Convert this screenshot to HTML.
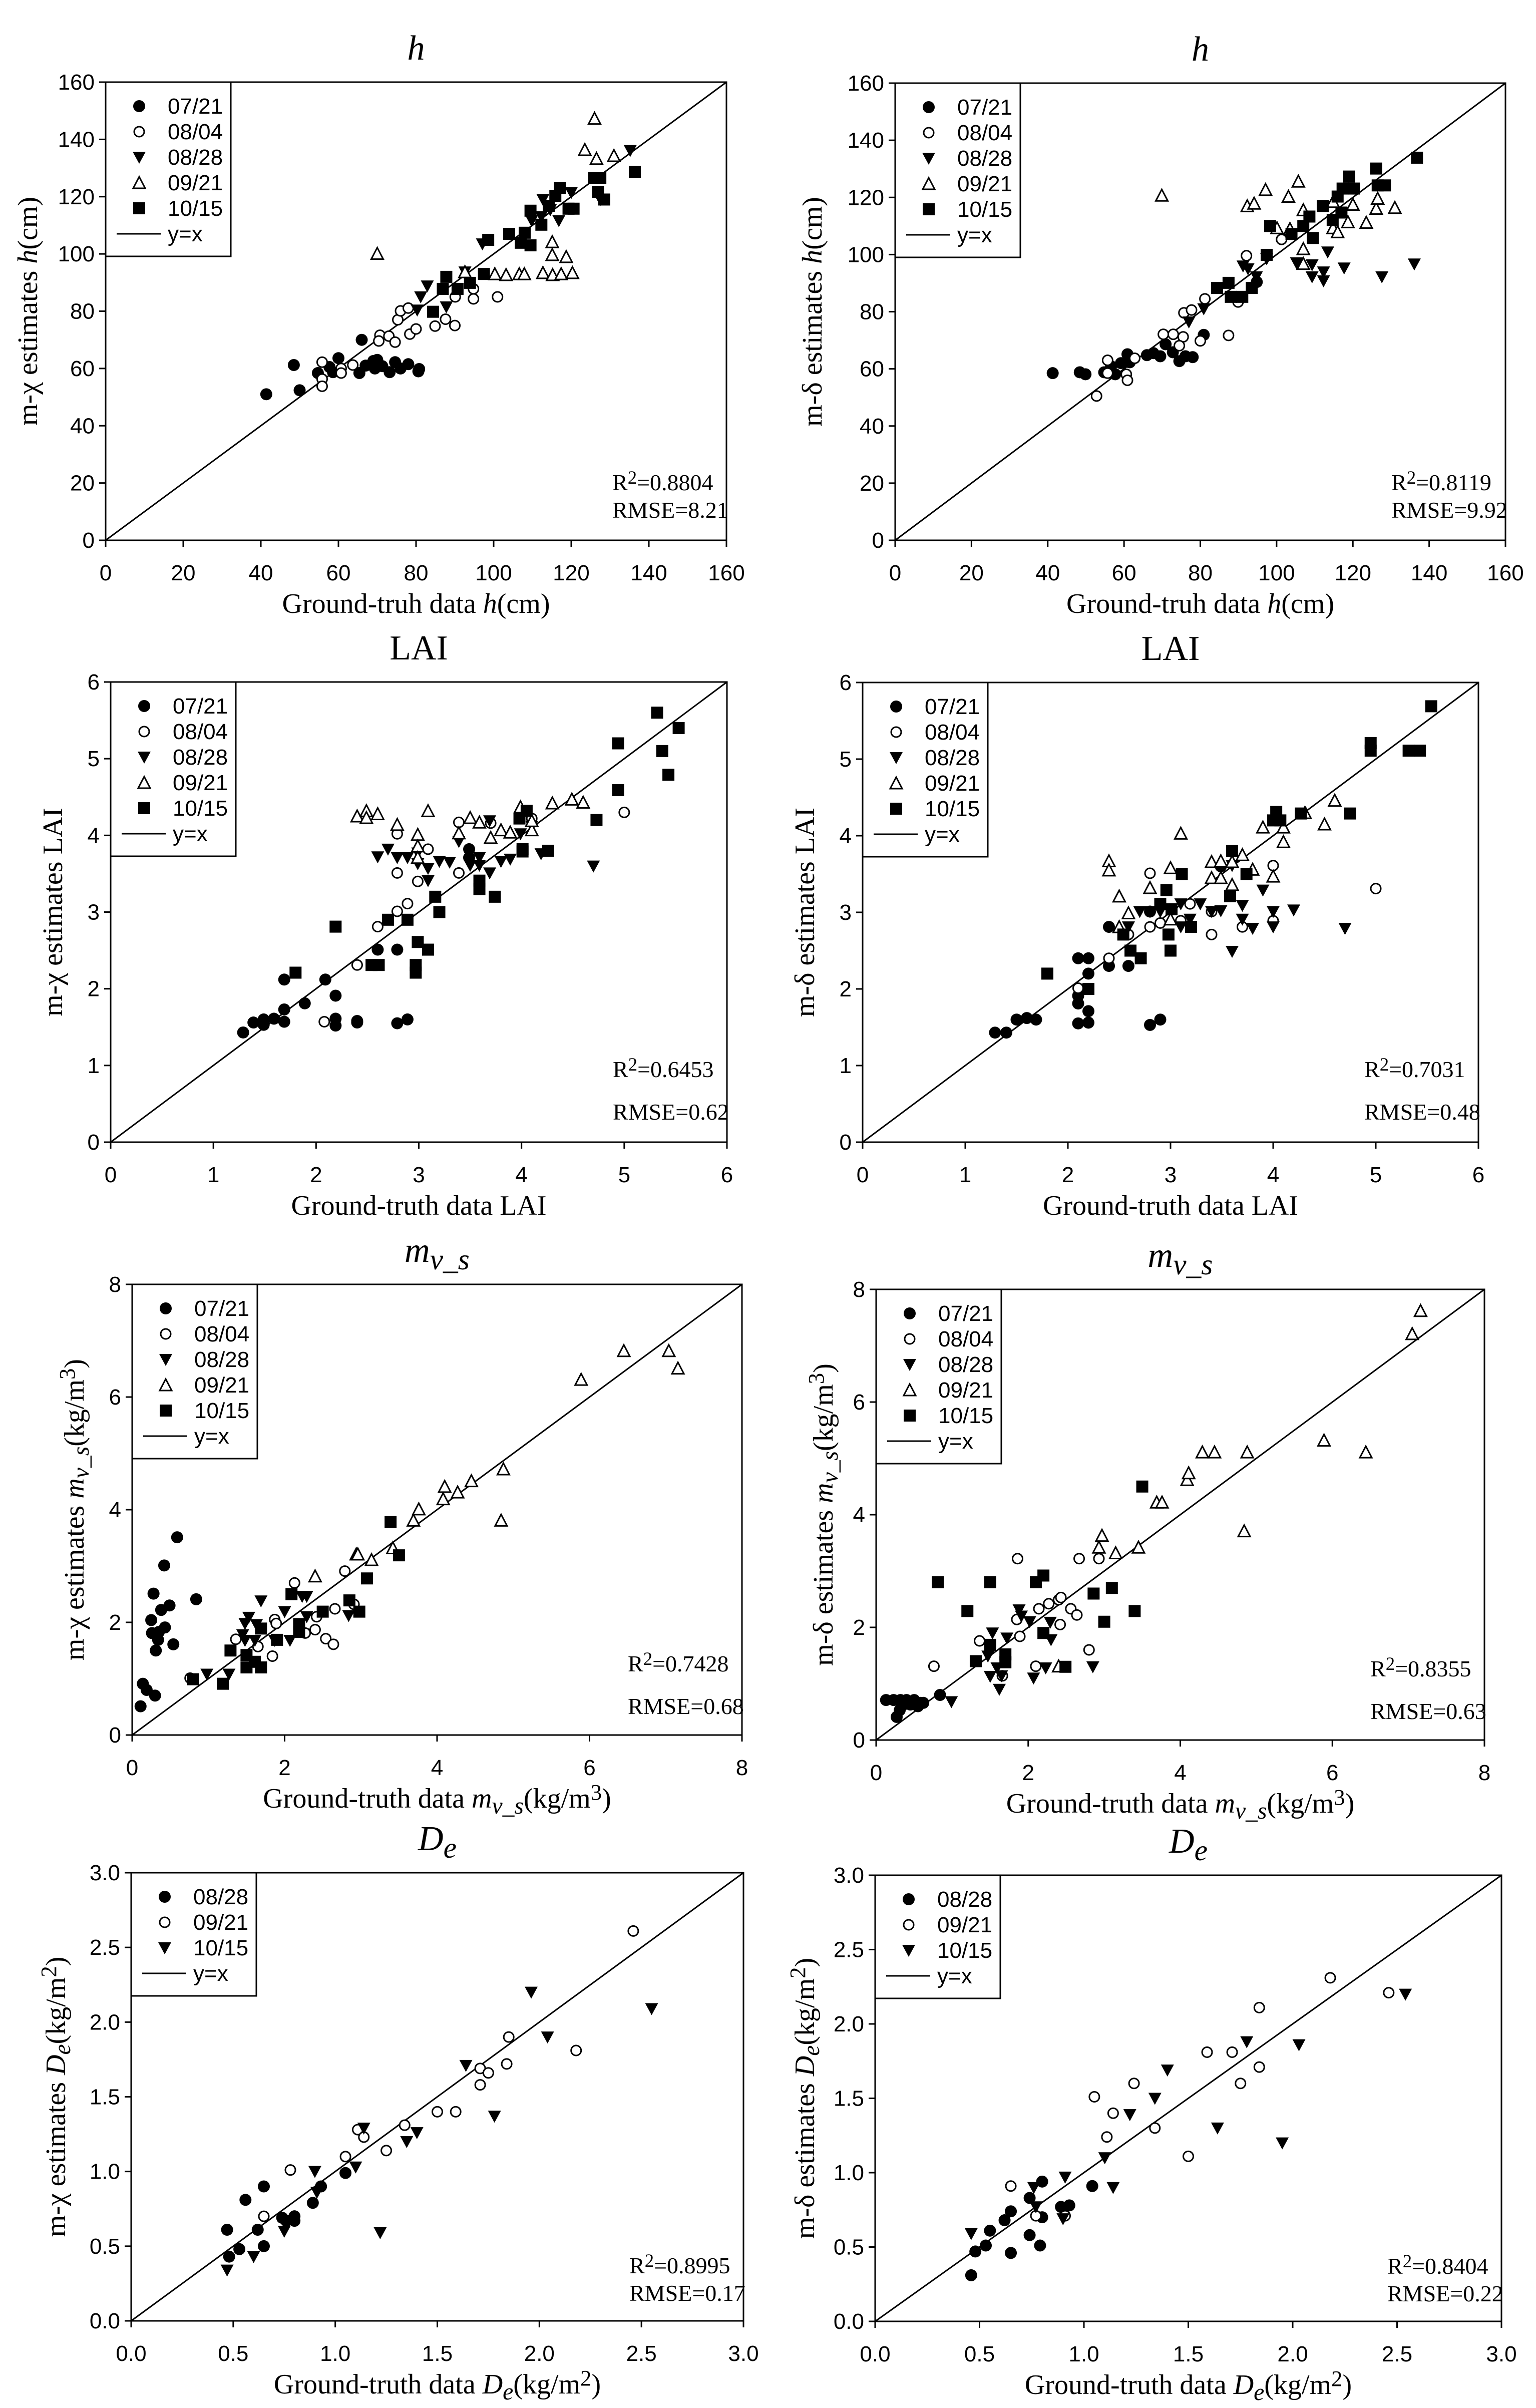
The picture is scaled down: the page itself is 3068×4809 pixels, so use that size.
<!DOCTYPE html>
<html><head><meta charset="utf-8"><style>
html,body{margin:0;padding:0;background:#fff}
svg{display:block}
.tk{font-family:"Liberation Sans Narrow","Liberation Sans",sans-serif;font-size:44px;fill:#000}
.sf{font-family:"Liberation Serif",serif;fill:#000}
</style></head><body>
<svg id="fig" xmlns="http://www.w3.org/2000/svg" width="3068" height="4809" viewBox="0 0 3068 4809">
<rect width="3068" height="4809" fill="#fff"/>
</svg>
<script>
// ---------- DATA (x = ground truth, y = estimate) ----------
const hChi_0721=[[41.4,51],[48.5,61.2],[50,52.4],[54.7,58.4],[60,63.6],[57.7,60.5],[58.6,58.7],[66,70],[65.4,58.4],[67,61],[69,62.6],[70,63],[70.4,61],[69.4,60],[71.3,60.8],[73.2,58.7],[74.6,62.2],[76,60],[78,61.5],[80.8,59.8],[80.6,59]];
const hChi_0804=[[55.8,62.2],[55.8,56.3],[55.8,53.8],[60.7,60],[60.7,58.4],[63.7,61.2],[70.7,71.6],[70.4,69.6],[73,71.3],[74.6,69.2],[75.3,77],[76,80.1],[78,81.1],[78.4,72],[80,73.8],[84.9,74.8],[87.6,77.2],[90,75],[90.1,85],[94.8,84.3],[94.8,87.8],[101,85]];
const hChi_0828=[[80.3,80.4],[81.2,85],[82.9,88.8],[87.8,81.5],[92.6,93.7],[97.1,103.5],[112.7,119],[109.8,111.6],[114.6,115.4],[116.8,111.6],[120,121.4],[127.5,119],[135.2,136.1],[112.3,113]];
const hChi_0921=[[70,100.1],[92.6,93.7],[100.3,93],[103.2,92.7],[106.6,93],[107.9,93],[112.7,93.4],[115.2,92.7],[117.4,93],[120.3,93.4],[115.1,104.2],[115.1,99.7],[118.7,99],[123.5,136.4],[126,147.3],[126.5,133.3],[131,134.3]];
const hChi_1015=[[84.4,79.8],[87.8,92],[86.9,87.8],[90.7,87.8],[93.9,89.9],[97.5,93],[98.6,104.9],[104,107],[107,103.9],[108,107.4],[109.5,103],[109.5,115.1],[112.3,110.2],[114.2,116.8],[115.9,120.3],[117.1,123.1],[119.3,115.8],[120.6,115.8],[125.9,126.6],[127.5,126.6],[126.9,121.7],[128.5,119],[136.4,128.7]];

const hDel_0721=[[41.3,58.5],[48.4,58.8],[49.9,58.1],[54.8,58.8],[57.7,58.1],[59.2,62],[60.9,65.1],[66,64.8],[67.7,65.5],[69.5,64.4],[70.9,68.6],[72.8,65.8],[74.5,62.7],[76.1,64.4],[78,64.1],[80.9,71.9],[94.8,90.4],[61.5,62.3],[56.6,60.9]];
const hDel_0804=[[52.8,50.5],[55.7,63],[55.7,58.5],[60.6,58.1],[60.9,56],[62.8,63.7],[70.3,72.1],[72.9,72.1],[75.5,71.2],[74.5,68.1],[75.7,79.6],[77.7,80.6],[80,69.8],[81.2,84.5],[87.4,71.7],[89.9,83.4],[92.1,99.6],[101.3,105.3]];
const hDel_0828=[[77,76.4],[80.9,81],[91.2,96],[92.5,95],[94.7,92.2],[97.4,98.5],[105.2,97.1],[109.3,96.4],[109.3,92.2],[112.3,93.9],[112.3,90.8],[113.4,100.9],[117.7,95.3],[127.6,92.2],[136.1,96.7]];
const hDel_0921=[[69.9,120.7],[92.3,117],[94.1,117.9],[97.1,122.7],[100.1,109.3],[103.1,120.3],[103.5,109],[105.7,125.6],[107,115.6],[107,102],[107,96.8],[114.8,109.3],[116,107.9],[114.8,118.5],[118.7,111.4],[120,117.5],[123.5,111.2],[126.1,116.1],[126.5,119.6],[131,116.4]];
const hDel_1015=[[84.4,88.3],[87.4,90.1],[88,85.2],[91,85.2],[93.5,88.3],[97.4,99.9],[98.3,110],[103.9,107.2],[107,110],[108.6,113.3],[109.5,105.8],[112.1,117],[114.7,112.1],[116,120.3],[117,114.7],[117.3,123.1],[119,127.3],[120.3,123.1],[126.1,130.1],[126.5,124.2],[128.4,124.2],[136.8,133.9]];

const laiChi_0721=[[1.29,1.43],[1.39,1.56],[1.49,1.6],[1.49,1.53],[1.59,1.61],[1.69,1.57],[1.69,1.73],[1.69,2.12],[1.89,1.81],[2.09,2.12],[2.19,1.91],[2.19,1.61],[2.19,1.52],[2.4,1.58],[2.4,1.56],[2.6,2.51],[2.79,2.51],[2.79,1.55],[2.89,1.6],[3.49,3.82],[3.49,3.71]];
const laiChi_0804=[[2.08,1.57],[2.4,2.31],[2.6,2.81],[2.79,3.01],[2.89,3.11],[2.79,4.02],[2.79,3.51],[2.99,3.4],[3.09,3.82],[3.39,4.17],[3.39,3.51],[3.7,4.16],[4.1,4.22],[5,4.3]];
const laiChi_0828=[[2.6,3.72],[2.7,3.82],[2.79,3.71],[2.89,3.71],[2.99,3.77],[2.99,3.63],[3.09,3.57],[3.09,3.41],[3.2,3.66],[3.3,3.65],[3.39,3.92],[3.5,3.61],[3.59,3.71],[3.59,3.61],[3.69,3.51],[3.69,4.19],[3.8,3.66],[3.89,3.69],[3.99,4.02],[4.1,4.12],[4.19,3.76],[4.7,3.6]];
const laiChi_0921=[[2.4,4.25],[2.49,4.32],[2.49,4.23],[2.6,4.28],[2.79,4.14],[2.99,4.01],[2.99,3.86],[2.99,3.71],[3.09,4.32],[3.39,4.03],[3.5,4.23],[3.59,4.17],[3.7,3.97],[3.8,4.07],[3.89,4.04],[3.99,4.37],[4.1,4.07],[4.3,4.42],[4.49,4.47],[4.6,4.43],[4.1,4.19]];
const laiChi_1015=[[1.8,2.21],[2.19,2.81],[2.54,2.31],[2.61,2.31],[2.7,2.9],[2.89,2.9],[2.97,2.31],[2.97,2.21],[2.99,2.61],[3.09,2.51],[3.16,3.2],[3.2,3],[3.59,3.41],[3.59,3.3],[3.74,3.2],[3.98,4.22],[4.01,3.82],[4.01,3.79],[4.05,4.32],[4.26,3.8],[4.73,4.2],[4.94,4.59],[4.94,5.2],[5.32,5.6],[5.37,5.1],[5.43,4.79],[5.53,5.4]];

const laiDel_0721=[[1.29,1.43],[1.4,1.43],[1.5,1.6],[1.6,1.62],[1.69,1.6],[2.1,2.4],[2.1,1.91],[2.1,1.81],[2.1,1.55],[2.2,2.4],[2.2,2.2],[2.2,1.71],[2.2,1.56],[2.4,2.81],[2.4,2.3],[2.59,2.3],[2.8,1.53],[2.9,1.6],[2.8,3.01],[3.49,3.6]];
const laiDel_0804=[[2.1,2.01],[2.4,2.4],[2.59,2.71],[2.8,3.51],[2.8,2.81],[2.9,2.86],[3.1,2.89],[3.19,3.11],[3.4,3.01],[3.4,2.71],[3.7,2.81],[4,3.61],[4,2.89],[5,3.31]];
const laiDel_0828=[[2.59,2.81],[2.7,3.01],[2.8,3.01],[2.9,3.01],[3,3.01],[3.1,3.11],[3.1,2.81],[3.19,2.91],[3.29,3.11],[3.4,3.01],[3.49,3.02],[3.6,2.49],[3.7,3.09],[3.7,2.91],[3.8,2.79],[3.9,3.29],[4,3.01],[4,2.81],[4.2,3.03],[4.7,2.79],[3.6,3.61]];
const laiDel_0921=[[2.4,3.67],[2.4,3.55],[2.5,3.21],[2.5,2.81],[2.59,2.99],[2.8,3.32],[3,3.58],[3,2.91],[3.1,4.03],[3.4,3.66],[3.4,3.45],[3.49,3.67],[3.49,3.45],[3.6,3.36],[3.6,3.66],[3.7,3.75],[3.8,3.56],[3.9,4.11],[4,3.47],[4.1,4.11],[4.1,3.92],[4.31,4.3],[4.5,4.15],[4.6,4.46]];
const laiDel_1015=[[1.8,2.2],[2.2,2],[2.54,2.71],[2.61,2.5],[2.71,2.4],[2.9,3.11],[2.96,3.29],[2.98,2.71],[3,2.5],[3.01,3.04],[3.11,3.5],[3.2,2.81],[3.58,3.21],[3.6,3.8],[3.74,3.5],[4,4.2],[4.03,4.31],[4.07,4.2],[4.27,4.29],[4.75,4.29],[4.95,5.21],[4.95,5.11],[5.32,5.11],[5.43,5.11],[5.54,5.69]];

const mvChi_0721=[[0.11,0.51],[0.14,0.91],[0.19,0.8],[0.3,0.7],[0.25,2.04],[0.26,1.81],[0.28,2.51],[0.31,1.5],[0.34,1.69],[0.35,1.83],[0.38,2.22],[0.43,1.91],[0.42,3.01],[0.49,2.3],[0.54,1.61],[0.59,3.51],[0.84,2.41]];
const mvChi_0804=[[0.76,1.01],[1.36,1.7],[1.65,1.57],[1.84,1.4],[1.87,2.05],[1.89,1.98],[2.13,2.7],[2.27,1.81],[2.4,1.87],[2.42,2.1],[2.54,1.71],[2.64,1.61],[2.66,2.24],[2.79,2.91],[2.91,2.32]];
const mvChi_0828=[[0.98,1.08],[1.27,1.08],[1.45,1.78],[1.48,1.98],[1.48,1.68],[1.53,2.09],[1.61,1.68],[1.63,1.96],[1.69,2.38],[1.87,1.68],[2,2.19],[2.07,1.68],[2.23,2.46],[2.29,2.46],[2.29,2.1],[2.84,2.12]];
const mvChi_0921=[[2.4,2.82],[2.94,3.21],[2.96,3.21],[3.14,3.11],[3.42,3.32],[3.69,3.81],[3.76,4.01],[4.08,4.19],[4.1,4.41],[4.27,4.31],[4.45,4.51],[4.84,3.81],[4.87,4.72],[5.89,6.31],[6.45,6.82],[7.04,6.82],[7.16,6.51]];
const mvChi_1015=[[0.8,0.99],[1.19,0.91],[1.29,1.5],[1.5,1.42],[1.5,1.2],[1.61,1.3],[1.69,1.2],[1.69,1.89],[1.9,1.69],[2.09,2.5],[2.19,1.97],[2.19,1.83],[2.5,2.19],[2.85,2.39],[2.98,2.19],[3.08,2.78],[3.39,3.78],[3.5,3.19]];

const mvDel_0721=[[0.13,0.71],[0.23,0.71],[0.32,0.71],[0.4,0.71],[0.5,0.71],[0.58,0.66],[0.27,0.41],[0.36,0.63],[0.45,0.63],[0.55,0.6],[0.62,0.66],[0.84,0.8],[0.31,0.53]];
const mvDel_0804=[[0.76,1.31],[1.36,1.76],[1.66,1.14],[1.85,2.14],[1.86,3.22],[1.89,1.84],[2.1,1.31],[2.14,2.33],[2.27,2.42],[2.4,2.49],[2.43,2.53],[2.42,2.05],[2.56,2.33],[2.64,2.22],[2.67,3.22],[2.8,1.6],[2.93,3.22]];
const mvDel_0828=[[0.99,0.68],[1.47,1.49],[1.5,1.13],[1.53,1.9],[1.59,1.28],[1.62,0.9],[1.65,1.14],[1.72,1.81],[1.88,2.31],[1.91,2.2],[2.02,2.1],[2.07,1.1],[2.23,1.28],[2.29,2.09],[2.3,1.78],[2.85,1.3]];
const mvDel_0921=[[2.4,1.31],[2.93,3.42],[2.97,3.63],[3.15,3.32],[3.45,3.42],[3.69,4.22],[3.76,4.22],[4.09,4.62],[4.11,4.74],[4.29,5.11],[4.45,5.11],[4.88,5.11],[4.84,3.71],[5.89,5.32],[6.44,5.11],[7.05,7.21],[7.16,7.62]];
const mvDel_1015=[[0.81,2.8],[1.2,2.29],[1.31,1.4],[1.5,2.8],[1.5,1.69],[1.7,1.52],[1.7,1.38],[2.1,2.8],[2.2,2.92],[2.2,1.9],[2.49,1.3],[2.86,2.6],[3,2.1],[3.1,2.7],[3.4,2.29],[3.5,4.5]];

const deChi_0828=[[0.47,0.61],[0.48,0.43],[0.53,0.48],[0.56,0.81],[0.62,0.61],[0.65,0.9],[0.65,0.5],[0.74,0.69],[0.76,0.67],[0.8,0.7],[0.8,0.67],[0.89,0.79],[0.93,0.9],[1.05,0.99]];
const deChi_0921=[[0.65,0.7],[0.78,1.01],[1.05,1.1],[1.11,1.28],[1.14,1.23],[1.25,1.14],[1.34,1.31],[1.5,1.4],[1.59,1.4],[1.71,1.58],[1.71,1.69],[1.75,1.66],[1.84,1.72],[1.85,1.9],[2.18,1.81],[2.46,2.61]];
const deChi_1015=[[0.47,0.34],[0.6,0.43],[0.75,0.6],[0.9,1],[0.91,0.86],[1.1,1.03],[1.14,1.29],[1.22,0.59],[1.35,1.2],[1.4,1.26],[1.64,1.71],[1.78,1.37],[1.96,2.2],[2.04,1.9],[2.55,2.09]];

const deDel_0828=[[0.46,0.31],[0.48,0.47],[0.53,0.51],[0.55,0.61],[0.62,0.68],[0.65,0.74],[0.65,0.46],[0.74,0.83],[0.74,0.58],[0.79,0.51],[0.8,0.94],[0.8,0.7],[0.89,0.77],[0.93,0.78],[1.04,0.91]];
const deDel_0921=[[0.65,0.91],[0.77,0.71],[0.91,0.71],[1.05,1.51],[1.11,1.24],[1.14,1.4],[1.24,1.6],[1.34,1.3],[1.5,1.11],[1.59,1.81],[1.71,1.81],[1.75,1.6],[1.84,2.11],[1.84,1.71],[2.18,2.31],[2.46,2.21]];
const deDel_1015=[[0.46,0.59],[0.76,0.9],[0.77,0.77],[0.9,0.69],[0.91,0.97],[1.1,1.1],[1.14,0.9],[1.22,1.39],[1.34,1.5],[1.4,1.69],[1.64,1.3],[1.78,1.88],[1.95,1.2],[2.03,1.86],[2.54,2.2]];

const hTicks=[0,20,40,60,80,100,120,140,160];
const laiTicks=[0,1,2,3,4,5,6];
const mvTicks=[0,2,4,6,8];
const deTicks=["0.0","0.5","1.0","1.5","2.0","2.5","3.0"];
const datesFive=["07/21","08/04","08/28","09/21","10/15"];
const datesThree=["08/28","09/21","10/15"];
const stats=[["0.8804","8.21"],["0.8119","9.92"],["0.6453","0.62"],["0.7031","0.48"],["0.7428","0.68"],["0.8355","0.63"],["0.8995","0.17"],["0.8404","0.22"]];

// ---------- RENDER ----------
const NS="http://www.w3.org/2000/svg";
const svg=document.getElementById('fig');
function mk(tag,attrs,parent){const e=document.createElementNS(NS,tag);for(const k in attrs)e.setAttribute(k,attrs[k]);(parent||svg).appendChild(e);return e;}
function rich(parent,segs){segs.forEach(s=>{const t=document.createElementNS(NS,'tspan');t.textContent=s[0];const st=s[1]||'';if(st.includes('i'))t.setAttribute('font-style','italic');if(st.includes('b')){t.setAttribute('baseline-shift','-25%');t.setAttribute('font-size','0.85em');}if(st.includes('p')){t.setAttribute('baseline-shift','35%');t.setAttribute('font-size','0.8em');}parent.appendChild(t);});}

function marker(g,type,cx,cy){
  let e;
  if(type==='fc')e=mk('circle',{cx,cy,r:12,fill:'#000'},g);
  else if(type==='oc')e=mk('circle',{cx,cy,r:10,fill:'#fff',stroke:'#000','stroke-width':3},g);
  else if(type==='dt')e=mk('polygon',{points:`${cx-13},${cy-11} ${cx+13},${cy-11} ${cx},${cy+13}`,fill:'#000'},g);
  else if(type==='ut')e=mk('polygon',{points:`${cx-12},${cy+11} ${cx+12},${cy+11} ${cx},${cy-12}`,fill:'#fff',stroke:'#000','stroke-width':3},g);
  else e=mk('rect',{x:cx-12,y:cy-12,width:24,height:24,fill:'#000'},g);
  return e;
}

const five=['fc','oc','dt','ut','s'];
const three=['fc','oc','dt'];
const hX=[["Ground-truh data "],["h","i"],["(cm)"]];
const laiX=[["Ground-truth data LAI"]];
const mvX=[["Ground-truth data "],["m","i"],["v_s","ib"],["(kg/m"],["3","p"],[")"]];
const deX=[["Ground-truth data "],["D","i"],["e","ib"],["(kg/m"],["2","p"],[")"]];
const plots=[
 {id:'h-chi',L:211,R:1451,B:1079,T:164,max:160,ticks:hTicks,title:[["h","i"]],xt:hX,yt:[["m-χ estimates "],["h","i"],["(cm)"]],yx:150,series:[hChi_0721,hChi_0804,hChi_0828,hChi_0921,hChi_1015],mk:five,labels:datesFive,st:stats[0],so:[-100,-45]},
 {id:'h-delta',L:1788,R:3007,B:1079,T:166,max:160,ticks:hTicks,title:[["h","i"]],xt:hX,yt:[["m-δ estimates "],["h","i"],["(cm)"]],yx:160,series:[hDel_0721,hDel_0804,hDel_0828,hDel_0921,hDel_1015],mk:five,labels:datesFive,st:stats[1],so:[-100,-45]},
 {id:'lai-chi',L:221,R:1452,B:2281,T:1362,max:6,ticks:laiTicks,title:[["LAI"]],xt:laiX,yt:[["m-χ estimates LAI"]],yx:110,series:[laiChi_0721,laiChi_0804,laiChi_0828,laiChi_0921,laiChi_1015],mk:five,labels:datesFive,st:stats[2],so:[-130,-45]},
 {id:'lai-delta',L:1723,R:2953,B:2281,T:1363,max:6,ticks:laiTicks,title:[["LAI"]],xt:laiX,yt:[["m-δ estimates LAI"]],yx:110,series:[laiDel_0721,laiDel_0804,laiDel_0828,laiDel_0921,laiDel_1015],mk:five,labels:datesFive,st:stats[3],so:[-130,-45]},
 {id:'mv-chi',L:264,R:1482,B:3465,T:2565,max:8,ticks:mvTicks,title:[["m","i"],["v_s","ib"]],xt:mvX,yt:[["m-χ estimates "],["m","i"],["v_s","ib"],["(kg/m"],["3","p"],[")"]],yx:110,series:[mvChi_0721,mvChi_0804,mvChi_0828,mvChi_0921,mvChi_1015],mk:five,labels:datesFive,st:stats[4],so:[-127,-42]},
 {id:'mv-delta',L:1750,R:2965,B:3475,T:2575,max:8,ticks:mvTicks,title:[["m","i"],["v_s","ib"]],xt:mvX,yt:[["m-δ estimates "],["m","i"],["v_s","ib"],["(kg/m"],["3","p"],[")"]],yx:100,series:[mvDel_0721,mvDel_0804,mvDel_0828,mvDel_0921,mvDel_1015],mk:five,labels:datesFive,st:stats[5],so:[-127,-42]},
 {id:'de-chi',L:262,R:1485,B:4635,T:3740,max:3,ticks:deTicks,title:[["D","i"],["e","ib"]],xt:deX,yt:[["m-χ estimates "],["D","i"],["e","ib"],["(kg/m"],["2","p"],[")"]],yx:145,series:[deChi_0828,deChi_0921,deChi_1015],mk:three,labels:datesThree,st:stats[6],so:[-95,-40]},
 {id:'de-delta',L:1748,R:2999,B:4636,T:3745,max:3,ticks:deTicks,title:[["D","i"],["e","ib"]],xt:deX,yt:[["m-δ estimates "],["D","i"],["e","ib"],["(kg/m"],["2","p"],[")"]],yx:135,series:[deDel_0828,deDel_0921,deDel_1015],mk:three,labels:datesThree,st:stats[7],so:[-95,-40]}
];

plots.forEach(p=>{
  const g=mk('g',{});
  
  
  const sx=v=>p.L+(v/p.max)*(p.R-p.L);
  const sy=v=>p.B-(v/p.max)*(p.B-p.T);
  // title
  const tt=mk('text',{x:(p.L+p.R)/2,y:p.T-45,'text-anchor':'middle','font-size':70,class:'sf'},g);
  
  
  rich(tt,p.title);
  // y=x line
  const ln=mk('line',{x1:sx(0),y1:sy(0),x2:sx(p.max),y2:sy(p.max),stroke:'#000','stroke-width':3},g);
  
  
  // ticks
  p.ticks.forEach(t=>{
    const v=parseFloat(t);
    mk('line',{x1:sx(v),y1:p.B,x2:sx(v),y2:p.B+13,stroke:'#000','stroke-width':3},g);
    mk('line',{x1:p.L-13,y1:sy(v),x2:p.L,y2:sy(v),stroke:'#000','stroke-width':3},g);
    const xl=mk('text',{x:sx(v),y:p.B+80,'text-anchor':'middle',class:'tk'},g);
    xl.textContent=t;
    
    
    const yl=mk('text',{x:p.L-22,y:sy(v)+15,'text-anchor':'end',class:'tk'},g);
    yl.textContent=t;
    
    
  });
  // series
  p.series.forEach((s,i)=>{
    const sg=mk('g',{},g);
    
    
    s.forEach(d=>{
      const m=marker(sg,p.mk[i],sx(d[0]),sy(d[1]));
      
      
    });
  });
  // axes box
  const bx=mk('rect',{x:p.L,y:p.T,width:p.R-p.L,height:p.B-p.T,fill:'none',stroke:'#000','stroke-width':3},g);
  
  
  // legend
  const n=p.labels.length+1;
  const lg=mk('g',{},g);
  
  
  mk('rect',{x:p.L,y:p.T,width:250,height:n*51+42,fill:'#fff',stroke:'#000','stroke-width':3},lg);
  p.labels.forEach((lab,i)=>{
    const cy=p.T+48+i*51;
    const m=marker(lg,p.mk[i],p.L+67,cy);
    
    
    const t=mk('text',{x:p.L+124,y:cy+15,class:'tk'},lg);
    t.textContent=lab;
    
    
  });
  const ly=p.T+48+p.labels.length*51;
  mk('line',{x1:p.L+22,y1:ly,x2:p.L+110,y2:ly,stroke:'#000','stroke-width':3},lg);
  const yt=mk('text',{x:p.L+124,y:ly+15,class:'tk'},lg);
  yt.textContent='y=x';
  
  
  // stats
  const r2=mk('text',{x:p.R-228,y:p.B+p.so[0],'font-size':46,class:'sf'},g);
  rich(r2,[["R"],["2","p"],["="+p.st[0]]]);
  
  
  const rm=mk('text',{x:p.R-228,y:p.B+p.so[1],'font-size':46,class:'sf'},g);
  rm.textContent='RMSE='+p.st[1];
  
  
  // axis titles
  const xt=mk('text',{x:(p.L+p.R)/2,y:p.B+145,'text-anchor':'middle','font-size':56,class:'sf'},g);
  rich(xt,p.xt);
  
  
  const cy=(p.T+p.B)/2, cx=p.L-p.yx;
  const ytt=mk('text',{x:cx,y:cy,'text-anchor':'middle','dominant-baseline':'middle','font-size':56,class:'sf',transform:`rotate(-90 ${cx} ${cy})`},g);
  rich(ytt,p.yt);
  
  
});
</script>
</body></html>
